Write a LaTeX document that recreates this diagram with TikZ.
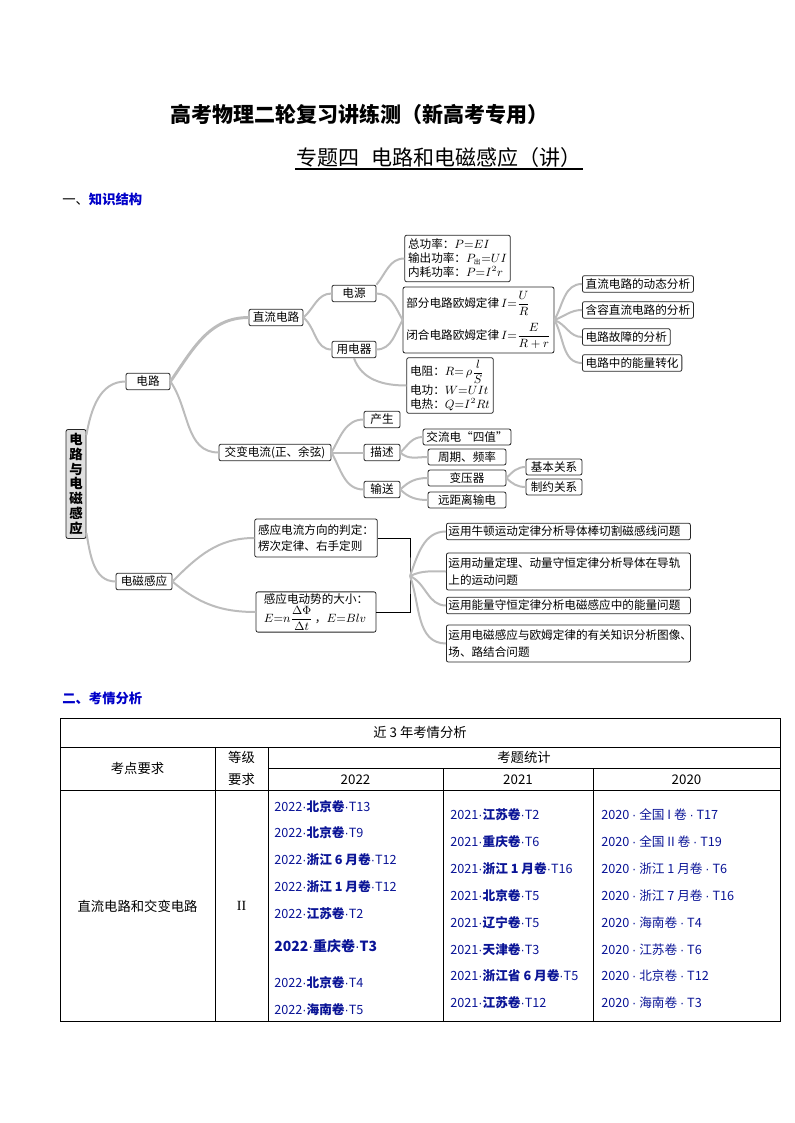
\documentclass[tikz,border=0pt]{standalone}
\usepackage{amsmath}
\usepackage{fontspec}
\setmainfont{Noto Sans CJK SC}
\newfontfamily\serif{Liberation Serif}
\newfontfamily\latin{Liberation Sans}
\newcommand\cdt{{\latin\mdseries ·}}
\definecolor{hdblue}{RGB}{0,0,200}
\definecolor{itemblue}{RGB}{10,20,150}
\definecolor{linegray}{RGB}{188,188,188}

\begin{document}
\begin{tikzpicture}[x=0.75pt,y=-0.75pt,
  mbox/.style={draw=black!85,line width=0.6pt,rounded corners=1.5pt,fill=white,inner xsep=2.5pt,inner ysep=1.5pt,minimum height=12.5pt,font=\fontsize{8.7}{10.5}\selectfont},
  tallbox/.style={mbox,align=left,font=\fontsize{8.7}{12.5}\selectfont},
  branch/.style={draw=linegray,line width=1.5pt},
  cell/.style={inner sep=0pt,font=\fontsize{10}{12}\selectfont},
  item/.style={anchor=west,inner sep=0pt,text=itemblue,font=\fontsize{9.5}{11}\selectfont},
  tbl/.style={line width=0.7pt}]
\useasboundingbox (0,0) rectangle (794,1123);
\node[inner sep=0pt,font=\fontsize{15.75}{18}\selectfont\bfseries] (title) at (359,114) {高考物理二轮复习讲练测（新高考专用）};
\node[inner sep=0pt,font=\fontsize{15.75}{18}\selectfont] (sub) at (439,158) {专题四\hspace{0.6em}电路和电磁感应（讲）};
\draw[line width=0.8pt] (295,169) -- (583,169);
\node[anchor=west,inner sep=0pt,font=\fontsize{10}{12}\selectfont\bfseries] (sec1) at (62,199) {{\mdseries 一、}\textcolor{hdblue}{知识结构}};

\node[mbox,fill=gray!25,align=center,minimum width=15pt,inner xsep=1pt,inner ysep=2.5pt,font=\fontsize{10}{11.2}\selectfont\bfseries] (root) at (76,484) {电\\路\\与\\电\\磁\\感\\应};
\node[mbox,minimum width=33pt] (dl) at (148,381.5) {电路};
\node[mbox,minimum width=40.5pt] (zl) at (276,317.5) {直流电路};
\node[mbox,minimum width=33pt] (dy) at (354,293.5) {电源};
\node[mbox,minimum width=33pt] (yd) at (354,349.5) {用电器};
\node[mbox,align=left,minimum width=72.75pt,minimum height=35pt] (b1) at (457.5,258.5) {总功率：$P{=}EI$\\输出功率：$P_{\mbox{\tiny 出}}{=}UI$\\内耗功率：$P{=}I^2r$};
\node[mbox,align=left,minimum width=104pt,minimum height=49.5pt] (b2) at (478.5,320) {部分电路欧姆定律\,$I{=}\dfrac{U}{R}$\\[5pt]闭合电路欧姆定律\,$I{=}\dfrac{E}{R+r}$};
\node[mbox,align=left,minimum width=61.5pt,minimum height=41pt] (b3) at (450,385.5) {电阻：$R{=}\,\rho\dfrac{l}{S}$\\电功：$W{=}UIt$\\电热：$Q{=}I^2Rt$};
\node[mbox,anchor=west] (r1) at (582,284) {直流电路的动态分析};
\node[mbox,anchor=west] (r2) at (582,310) {含容直流电路的分析};
\node[mbox,anchor=west] (r3) at (582,337) {电路故障的分析};
\node[mbox,anchor=west] (r4) at (582,363) {电路中的能量转化};

\node[mbox,minimum width=84pt] (jb) at (275,452.5) {交变电流(正、余弦)};
\node[mbox,minimum width=27pt] (cs) at (382,419.5) {产生};
\node[mbox,minimum width=27pt] (ms) at (382,452.5) {描述};
\node[mbox,minimum width=27pt] (ss) at (382,489.5) {输送};
\node[mbox,minimum width=58.5pt,minimum height=12pt] (sz) at (467,437) {交流电“四值”};
\node[mbox,minimum width=58.5pt,minimum height=12pt] (zq) at (467,457) {周期、频率};
\node[mbox,minimum width=58.5pt,minimum height=12pt] (byq) at (467,478) {变压器};
\node[mbox,minimum width=58.5pt,minimum height=12pt] (yjl) at (467,500) {远距离输电};
\node[mbox,minimum width=42pt,minimum height=12pt] (jbgx) at (554,467) {基本关系};
\node[mbox,minimum width=42pt,minimum height=12pt] (zygx) at (554,487) {制约关系};

\node[mbox,minimum width=42pt] (dc) at (144,581.5) {电磁感应};
\node[tallbox,minimum width=90pt,minimum height=28.5pt] (gl) at (316,538) {感应电流方向的判定：\\楞次定律、右手定则};
\node[tallbox,minimum width=90pt,minimum height=28.5pt] (gd) at (316,612) {感应电动势的大小：\\$E{=}n\dfrac{\Delta\Phi}{\Delta t}$\,，$E{=}Blv$};
\coordinate (jn) at (410,576);
\node[tallbox,anchor=west,text width=180pt,inner xsep=1.5pt] (q1) at (446,531.5) {运用牛顿运动定律分析导体棒切割磁感线问题};
\node[tallbox,anchor=west,text width=180pt,inner xsep=1.5pt,minimum height=27.75pt] (q2) at (446,571.5) {运用动量定理、动量守恒定律分析导体在导轨\\上的运动问题};
\node[tallbox,anchor=west,text width=180pt,inner xsep=1.5pt] (q3) at (446,605.5) {运用能量守恒定律分析电磁感应中的能量问题};
\node[tallbox,anchor=west,text width=180pt,inner xsep=1.5pt,minimum height=27.75pt] (q4) at (446,643.5) {运用电磁感应与欧姆定律的有关知识分析图像、\\场、路结合问题};

\draw[branch] (root.78) to[out=80,in=180] (dl.west);
\draw[branch] (root.-78) to[out=-80,in=180] (dc.west);
\draw[branch,line width=2.2pt] (dl.east) to[out=55,in=180] (zl.west);
\draw[branch] (dl.east) to[out=-55,in=180] (jb.west);
\draw[branch] (zl.east) to[out=40,in=180] (dy.west);
\draw[branch] (zl.east) to[out=-40,in=180] (yd.west);
\draw[branch] (dy.north east) to[out=50,in=180] (b1.west);
\draw[branch] (dy.east) to[out=0,in=120] (b2.west);
\draw[branch] (yd.east) to[out=0,in=-120] (b2.west);
\draw[branch] (yd.south) to[out=-70,in=180] (b3.west);
\foreach \n/\a in {r1/60,r2/20,r3/-20,r4/-60}{\draw[branch] (b2.east) to[out=\a,in=180] (\n.west);}
\foreach \n/\a in {cs/60,ms/0,ss/-60}{\draw[branch] (jb.east) to[out=\a,in=180] (\n.west);}
\foreach \n/\a in {sz/45,zq/-45}{\draw[branch] (ms.east) to[out=\a,in=180] (\n.west);}
\foreach \n/\a in {byq/45,yjl/-45}{\draw[branch] (ss.east) to[out=\a,in=180] (\n.west);}
\foreach \n/\a in {jbgx/45,zygx/-45}{\draw[branch] (byq.east) to[out=\a,in=180] (\n.west);}
\foreach \n/\a in {gl/45,gd/-40}{\draw[branch] (dc.east) to[out=\a,in=180] (\n.west);}
\draw[line width=0.6pt] (gl.east) -| (jn) |- (gd.east);
\foreach \n/\a in {q1/70,q2/25,q3/-25,q4/-70}{\draw[branch] (jn) to[out=\a,in=180] (\n.west);}

\node[anchor=west,inner sep=0pt,font=\fontsize{10}{12}\selectfont\bfseries,text=hdblue] (sec2) at (62,698) {二、考情分析};
\draw[tbl] (60,718) rectangle (780,1021);
\draw[tbl] (60,747) -- (780,747) (268,768) -- (780,768) (60,790) -- (780,790);
\draw[tbl] (215,747) -- (215,1021) (268,747) -- (268,1021) (443,768) -- (443,1021) (593,768) -- (593,1021);
\node[cell] (jsn) at (420,732.5) {近 3 年考情分析};
\node[cell] (kdyq) at (137.5,768.5) {考点要求};
\node[cell] (dj) at (241.5,757.5) {等级};
\node[cell] (yq) at (241.5,779) {要求};
\node[cell] (ktjt) at (524,757.5) {考题统计};
\node[cell] (y22) at (355.5,779.5) {2022};
\node[cell] (y21) at (518,779.5) {2021};
\node[cell] (y20) at (686.5,779.5) {2020};
\node[cell] (kd1) at (137.5,906) {直流电路和交变电路};
\node[cell,font=\fontsize{10.5}{12}\serif] (dj1) at (241.5,906) {II};
\foreach \y/\t [count=\i] in {807/2022\cdt{\bfseries 北京卷}\cdt T13,833/2022\cdt{\bfseries 北京卷}\cdt T9,860/2022\cdt{\bfseries 浙江 6 月卷}\cdt T12,887/2022\cdt{\bfseries 浙江 1 月卷}\cdt T12,914/2022\cdt{\bfseries 江苏卷}\cdt T2,946/{\fontsize{10.5}{12}\selectfont\bfseries 2022\cdt 重庆卷\cdt T3},983/2022\cdt{\bfseries 北京卷}\cdt T4,1010/2022\cdt{\bfseries 海南卷}\cdt T5}{\node[item] (a\i) at (274,\y) {\t};}
\foreach \y/\t [count=\i] in {815/2021\cdt{\bfseries 江苏卷}\cdt T2,842/2021\cdt{\bfseries 重庆卷}\cdt T6,869/2021\cdt{\bfseries 浙江 1 月卷}\cdt T16,896/2021\cdt{\bfseries 北京卷}\cdt T5,923/2021\cdt{\bfseries 辽宁卷}\cdt T5,950/2021\cdt{\bfseries 天津卷}\cdt T3,976/2021\cdt{\bfseries 浙江省 6 月卷}\cdt T5,1003/2021\cdt{\bfseries 江苏卷}\cdt T12}{\node[item] (b\i) at (450,\y) {\t};}
\foreach \y/\t [count=\i] in {815/2020 \cdt{} 全国 I 卷 \cdt{} T17,842/2020 \cdt{} 全国 II 卷 \cdt{} T19,869/2020 \cdt{} 浙江 1 月卷 \cdt{} T6,896/2020 \cdt{} 浙江 7 月卷 \cdt{} T16,923/2020 \cdt{} 海南卷 \cdt{} T4,950/2020 \cdt{} 江苏卷 \cdt{} T6,976/2020 \cdt{} 北京卷 \cdt{} T12,1003/2020 \cdt{} 海南卷 \cdt{} T3}{\node[item] (c\i) at (601,\y) {\t};}
\end{tikzpicture}
\end{document}
